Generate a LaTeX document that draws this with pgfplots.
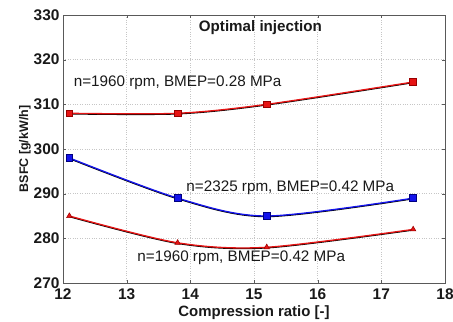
\documentclass[border=0pt]{standalone}
\usepackage{fontspec}
\setmainfont{Liberation Sans}
\usepackage{pgfplots}
\pgfplotsset{compat=1.18}
\definecolor{myred}{RGB}{230,20,20}
\definecolor{myblue}{RGB}{20,20,235}
\begin{document}
\begin{tikzpicture}
\begin{axis}[
  name=ax,
  scale only axis,
  width=382bp, height=268bp,
  xmin=12, xmax=18, ymin=270, ymax=330,
  xtick={12,13,...,18}, ytick={270,280,...,330},
  grid=major,
  major grid style={gray!45, dotted, line width=0.6pt},
  axis line style={gray!70!black, line width=0.8pt},
  tick style={gray!70!black},
  tick align=inside,
  major tick length=3pt,
  /pgf/number format/assume math mode=true,
  ticklabel style={font=\bfseries\fontsize{15.5}{17}\selectfont, text=black!90},
  xticklabel style={yshift=-2pt},
  yticklabel style={xshift=0pt},
  xlabel={Compression ratio [-]},
  ylabel={BSFC [g/kW/h]},
  xlabel style={font=\bfseries\fontsize{15}{16}\selectfont, text=black!90, yshift=1pt},
  ylabel style={font=\bfseries\fontsize{12.5}{14}\selectfont, text=black!90, yshift=-4pt},
  clip=false,
]
% shadows
\addplot[black, line width=1.3pt, smooth, tension=0.5, yshift=-0.6pt] coordinates {(12.1,308) (13.8,308) (15.2,310) (17.5,315)};
\addplot[black, line width=1.3pt, smooth, tension=0.5, yshift=-0.6pt] coordinates {(12.1,298) (13.8,289) (15.2,285) (17.5,289)};
\addplot[black, line width=1.3pt, smooth, tension=0.5, yshift=-0.6pt] coordinates {(12.1,285) (13.8,279) (15.2,278) (17.5,282)};
% series
\addplot[myred, line width=1.3pt, smooth, tension=0.5, mark=square*, mark size=3.4pt, mark options={fill=myred, draw=red!60!black, line width=0.6pt}] coordinates {(12.1,308) (13.8,308) (15.2,310) (17.5,315)};
\addplot[myblue, line width=1.3pt, smooth, tension=0.5, mark=square*, mark size=3.4pt, mark options={fill=myblue, draw=blue!50!black, line width=0.6pt}] coordinates {(12.1,298) (13.8,289) (15.2,285) (17.5,289)};
\addplot[myred, line width=1.3pt, smooth, tension=0.5, mark=triangle*, mark size=3.2pt, mark options={fill=myred, draw=red!60!black, line width=0.5pt}] coordinates {(12.1,285) (13.8,279) (15.2,278) (17.5,282)};
\node[font=\bfseries\fontsize{15.2}{16}\selectfont, text=black!90] at (axis cs:15.1,327.1) {Optimal injection};
\node[font=\fontsize{15.3}{17}\selectfont, text=black!90] at (axis cs:13.8,314.8) {n=1960 rpm, BMEP=0.28 MPa};
\node[font=\fontsize{15.3}{17}\selectfont, text=black!90] at (axis cs:15.57,291.3) {n=2325 rpm, BMEP=0.42 MPa};
\node[font=\fontsize{15.3}{17}\selectfont, text=black!90] at (axis cs:14.8,275.6) {n=1960 rpm, BMEP=0.42 MPa};
\end{axis}
\pgfresetboundingbox
\path ([xshift=-63bp,yshift=-39bp]ax.south west) rectangle ([xshift=8bp,yshift=15bp]ax.north east);
\end{tikzpicture}
\end{document}
